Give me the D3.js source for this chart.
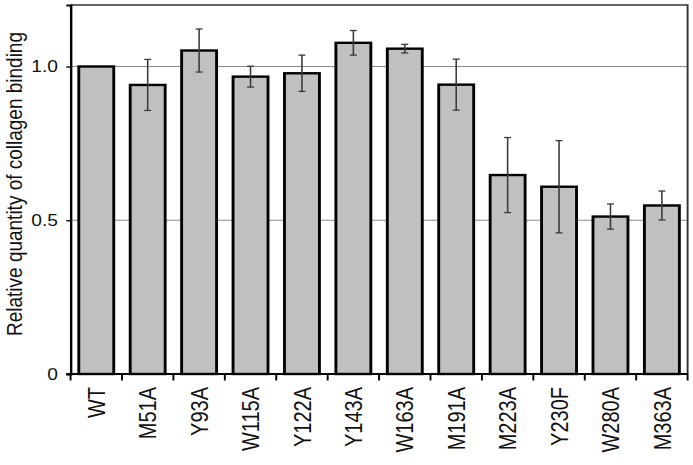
<!DOCTYPE html>
<html>
<head>
<meta charset="utf-8">
<script src="https://cdn.jsdelivr.net/npm/d3@7"></script>
<style>
  body { margin: 0; background: #fff; }
  text { font-family: "Liberation Sans", Arial, sans-serif; fill: #111; }
</style>
</head>
<body>
<svg id="chart"></svg>
<script>
// values
const mutants = ["WT", "M51A", "Y93A", "W115A", "Y122A", "Y143A", "W163A", "M191A", "M223A", "Y230F", "W280A", "M363A"];
const binding = [1.0, 0.94, 1.052, 0.967, 0.978, 1.077, 1.058, 0.941, 0.647, 0.609, 0.512, 0.548];
const errors  = [0, 0.083, 0.07, 0.034, 0.059, 0.04, 0.014, 0.083, 0.122, 0.15, 0.041, 0.047];
const yTicks = [0, 0.5, 1.0];
const yTickLabels = ["0", "0.5", "1.0"];

// the source picture is stretched sideways, so draw in a narrower box and stretch it
const stretch = 1.2;
const outerW = 693, outerH = 465;
const W = outerW / stretch, H = outerH;
const margin = {top: 5, right: W - 573, bottom: H - 374, left: 58.8};
const width = W - margin.left - margin.right;
const height = H - margin.top - margin.bottom;

const svg = d3.select("#chart")
  .attr("width", outerW)
  .attr("height", outerH)
  .attr("viewBox", `0 0 ${W} ${H}`)
  .attr("preserveAspectRatio", "none");

const chart = svg.append("g")
  .attr("transform", `translate(${margin.left},${margin.top})`);

const x = d3.scaleBand()
  .domain(mutants)
  .range([0, width])
  .paddingInner(0.32)
  .paddingOuter(0.16);

const y = d3.scaleLinear()
  .domain([0, 1.2])
  .range([height, 0]);

// gridlines
chart.selectAll(".grid")
  .data(yTicks.filter(d => d > 0))
  .join("line")
  .attr("class", "grid")
  .attr("x1", 0).attr("x2", width)
  .attr("y1", d => y(d)).attr("y2", d => y(d))
  .attr("stroke", "#8c8c8c")
  .attr("stroke-width", 1.2);

// plot frame (top and right)
chart.append("path")
  .attr("d", `M0,0H${width}V${height}`)
  .attr("fill", "none")
  .attr("stroke", "#333")
  .attr("stroke-width", 1.6);

// bars
const data = mutants.map((m, i) => ({name: m, value: binding[i], err: errors[i]}));

chart.selectAll(".bar")
  .data(data)
  .join("rect")
  .attr("class", "bar")
  .attr("x", d => x(d.name))
  .attr("y", d => y(d.value))
  .attr("width", x.bandwidth())
  .attr("height", d => y(0) - y(d.value))
  .attr("fill", "#c0c0c0")
  .attr("stroke", "#000")
  .attr("stroke-width", 2.4);

// error bars
const errG = chart.selectAll(".err")
  .data(data.filter(d => d.err > 0))
  .join("g")
  .attr("class", "err")
  .attr("transform", d => `translate(${x(d.name) + x.bandwidth() / 2},0)`)
  .attr("stroke", "#3a3a3a")
  .attr("stroke-width", 1.3);

errG.append("line")
  .attr("y1", d => y(d.value + d.err))
  .attr("y2", d => y(d.value - d.err));
errG.selectAll(".cap")
  .data(d => [d.value + d.err, d.value - d.err])
  .join("line")
  .attr("class", "cap")
  .attr("x1", -2.9).attr("x2", 2.9)
  .attr("y1", v => y(v)).attr("y2", v => y(v));

// y axis
const yAxis = d3.axisLeft(y)
  .tickValues(yTicks)
  .tickFormat((d, i) => yTickLabels[i])
  .tickSize(3.5)
  .tickPadding(7);

const yAxisG = chart.append("g").call(yAxis);
yAxisG.select(".domain").attr("stroke", "#000").attr("stroke-width", 2);
yAxisG.selectAll(".tick line").attr("stroke", "#000").attr("stroke-width", 1.4);
yAxisG.selectAll(".tick text")
  .attr("font-size", 16)
  .attr("fill", "#111");

// x axis line and boundary ticks
chart.append("line")
  .attr("x1", -3.5).attr("x2", width)
  .attr("y1", height).attr("y2", height)
  .attr("stroke", "#000")
  .attr("stroke-width", 2);

const edges = mutants.map(m => x(m) - (x.step() - x.bandwidth()) / 2).concat([width]);
chart.selectAll(".xtick")
  .data(edges)
  .join("line")
  .attr("class", "xtick")
  .attr("x1", d => d).attr("x2", d => d)
  .attr("y1", height).attr("y2", height + 6.5)
  .attr("stroke", "#000")
  .attr("stroke-width", 1.6);

// x labels, rotated
chart.selectAll(".xlabel")
  .data(mutants)
  .join("text")
  .attr("class", "xlabel")
  .attr("transform", d => `translate(${x(d) + x.bandwidth() / 2},${height + 13}) rotate(-90)`)
  .attr("text-anchor", "end")
  .attr("dy", "0.36em")
  .attr("font-size", 20)
  .text(d => d);

// y axis title
svg.append("text")
  .attr("transform", `translate(${14 / stretch},184) rotate(-90)`)
  .attr("text-anchor", "middle")
  .attr("dy", "0.36em")
  .attr("font-size", 19)
  .text("Relative quantity of collagen binding");
</script>
</body>
</html>
